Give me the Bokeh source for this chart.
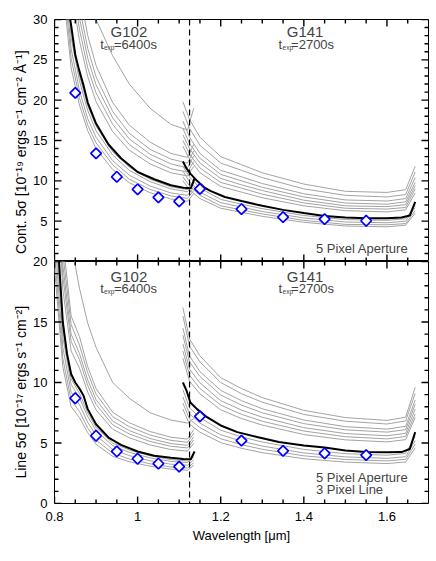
from math import pi
from bokeh.plotting import figure
from bokeh.models import Span, Label, FixedTicker, LinearAxis
from bokeh.layouts import column
from bokeh.embed import file_html
from bokeh.resources import INLINE

FONT = "Liberation Sans"
GRAY = "#a3a3a3"

# ---------------- data ----------------
# axis ticks
x_start, x_end = 0.8, 1.7
x_major = [0.8, 1.0, 1.2, 1.4, 1.6]
x_minor = [0.85, 0.9, 0.95, 1.05, 1.1, 1.15, 1.25, 1.3, 1.35, 1.45, 1.5, 1.55, 1.65]
cont_max = 30
cont_major = [0, 5, 10, 15, 20, 25, 30]
cont_minor = [v for v in range(31) if v % 5]
line_max = 20
line_major = [0, 5, 10, 15, 20]
line_minor = [v for v in range(21) if v % 5]
grism_split = 1.125

# thick black curves (median field)
wl_g102 = [0.80, 0.81, 0.82, 0.83, 0.84, 0.85, 0.86, 0.87, 0.88, 0.90, 0.93, 0.96, 1.00, 1.04, 1.08, 1.11, 1.128, 1.137]
cont_g102_median = [70, 52, 42, 32.5, 29.3, 25.6, 23.6, 21.8, 19.7, 17.1, 14.5, 12.8, 11.1, 10.2, 9.45, 9.15, 9.07, 10.3]
line_g102_median = [26, 20.5, 15.0, 12.4, 10.7, 10.0, 9.5, 8.9, 7.8, 6.55, 5.45, 4.85, 4.3, 3.95, 3.78, 3.68, 3.66, 4.3]

wl_g141_cont = [1.109, 1.118, 1.127, 1.143, 1.16, 1.175, 1.21, 1.25, 1.30, 1.35, 1.40, 1.45, 1.50, 1.55, 1.60, 1.635, 1.655, 1.668]
cont_g141_median = [12.4, 11.5, 10.9, 10.0, 9.2, 8.75, 8.0, 7.5, 6.9, 6.4, 6.0, 5.65, 5.45, 5.35, 5.35, 5.45, 5.7, 7.4]
wl_g141_line = [1.109, 1.118, 1.127, 1.143, 1.167, 1.20, 1.24, 1.29, 1.34, 1.40, 1.45, 1.50, 1.55, 1.60, 1.635, 1.655, 1.668]
line_g141_median = [10.0, 9.3, 8.35, 7.8, 7.13, 6.45, 5.9, 5.48, 5.08, 4.8, 4.62, 4.38, 4.25, 4.24, 4.25, 4.5, 5.9]

# thin gray curves (individual fields)
wl_g102_fields = [0.80, 0.82, 0.84, 0.86, 0.88, 0.90, 0.94, 0.98, 1.03, 1.08, 1.12, 1.135]
cont_g102_fields = [
    [120, 75, 52, 42, 35, 30, 25.5, 22.0, 19.0, 17.0, 16.3, 19.0],
    [99, 60, 41.6, 33.5, 28.0, 24.3, 19.7, 16.9, 14.8, 13.4, 12.9, 14.5],
    [94, 56, 39.3, 31.6, 26.4, 22.9, 18.6, 15.9, 13.9, 12.7, 12.2, 13.7],
    [90, 54, 37.5, 30.2, 25.2, 21.9, 17.8, 15.2, 13.3, 12.1, 11.6, 13.1],
    [85, 51, 35.7, 28.8, 24.0, 20.9, 17.0, 14.5, 12.7, 11.5, 11.1, 12.4],
    [81, 49, 34.0, 27.4, 22.9, 19.8, 16.1, 13.8, 12.1, 11.0, 10.6, 11.8],
    [69, 41, 28.7, 23.1, 19.3, 16.8, 13.6, 11.7, 10.2, 9.26, 8.92, 10.0],
    [66, 40, 27.8, 22.4, 18.7, 16.2, 13.2, 11.3, 9.9, 9.0, 8.65, 9.7],
    [63, 38, 26.4, 21.2, 17.7, 15.4, 12.5, 10.7, 9.36, 8.5, 8.2, 9.2],
    [60, 36, 25.2, 20.3, 16.9, 14.7, 12.0, 10.2, 8.94, 8.13, 7.83, 8.8],
    [57, 34, 24.0, 19.4, 16.2, 14.0, 11.4, 9.76, 8.53, 7.75, 7.46, 8.4],
]
line_g102_fields = [
    [45, 30, 21.5, 17.8, 14.9, 12.9, 10.0, 8.7, 7.5, 6.9, 6.65, 7.0],
    [37.7, 21.8, 15.5, 13.8, 11.3, 9.5, 7.54, 6.67, 5.95, 5.48, 5.32, 6.1],
    [35.9, 20.7, 14.8, 13.1, 10.8, 9.04, 7.18, 6.35, 5.66, 5.22, 5.06, 5.8],
    [34.1, 19.7, 14.0, 12.4, 10.2, 8.58, 6.81, 6.03, 5.37, 4.95, 4.81, 5.5],
    [32.5, 18.8, 13.4, 11.9, 9.75, 8.19, 6.5, 5.75, 5.13, 4.73, 4.59, 5.25],
    [30.7, 17.7, 12.6, 11.2, 9.2, 7.73, 6.14, 5.43, 4.84, 4.46, 4.33, 4.96],
    [25.0, 14.4, 10.3, 9.1, 7.5, 6.29, 4.99, 4.42, 3.94, 3.63, 3.52, 4.03],
    [23.9, 13.8, 9.84, 8.74, 7.18, 6.03, 4.78, 4.23, 3.77, 3.48, 3.38, 3.86],
    [22.4, 12.9, 9.2, 8.17, 6.71, 5.63, 4.47, 3.96, 3.53, 3.25, 3.16, 3.6],
    [20.8, 12.0, 8.56, 7.6, 6.24, 5.24, 4.16, 3.68, 3.28, 3.02, 2.94, 3.36],
    [19.5, 11.3, 8.0, 7.1, 5.85, 4.9, 3.9, 3.45, 3.08, 2.84, 2.75, 3.15],
]
wl_g141_fields = [1.109, 1.125, 1.15, 1.20, 1.25, 1.30, 1.40, 1.50, 1.60, 1.645, 1.668]
cont_g141_fields = [
    [19.8, 17.6, 15.4, 13.0, 12.0, 11.0, 9.6, 8.7, 8.56, 8.9, 11.8],
    [18.6, 16.5, 14.4, 12.2, 11.3, 10.4, 9.0, 8.2, 8.0, 8.3, 11.1],
    [17.4, 15.4, 13.4, 11.3, 10.5, 9.66, 8.4, 7.63, 7.5, 7.8, 10.4],
    [16.5, 14.6, 12.8, 10.8, 10.0, 9.2, 8.0, 7.25, 7.1, 7.4, 9.8],
    [15.7, 14.0, 12.2, 10.3, 9.5, 8.8, 7.6, 6.9, 6.8, 7.05, 9.4],
    [15.0, 13.3, 11.6, 9.8, 9.1, 8.35, 7.26, 6.6, 6.5, 6.7, 9.0],
    [14.3, 12.7, 11.0, 9.3, 8.6, 7.9, 6.9, 6.3, 6.15, 6.4, 8.5],
    [11.8, 10.5, 9.1, 7.7, 7.1, 6.55, 5.7, 5.2, 5.1, 5.3, 7.0],
    [11.2, 9.9, 8.6, 7.3, 6.75, 6.2, 5.4, 4.9, 4.8, 5.0, 6.7],
    [10.5, 9.35, 8.2, 6.9, 6.4, 5.9, 5.1, 4.6, 4.55, 4.7, 6.3],
    [10.0, 8.9, 7.8, 6.6, 6.1, 5.6, 4.86, 4.4, 4.3, 4.5, 6.0],
]
line_g141_fields = [
    [16.2, 13.6, 12.2, 10.4, 9.5, 8.75, 7.7, 7.1, 6.87, 7.13, 9.6],
    [15.5, 13.0, 11.7, 10.0, 9.07, 8.37, 7.36, 6.8, 6.57, 6.82, 9.1],
    [14.5, 12.2, 10.9, 9.35, 8.5, 7.83, 6.9, 6.35, 6.15, 6.38, 8.55],
    [13.9, 11.7, 10.5, 8.97, 8.13, 7.5, 6.6, 6.09, 5.9, 6.1, 8.2],
    [13.2, 11.1, 9.97, 8.5, 7.72, 7.13, 6.27, 5.78, 5.6, 5.8, 7.8],
    [12.6, 10.6, 9.5, 8.13, 7.37, 6.8, 5.99, 5.52, 5.34, 5.54, 7.4],
    [12.0, 10.1, 9.06, 7.74, 7.02, 6.48, 5.7, 5.26, 5.09, 5.28, 7.1],
    [9.4, 7.9, 7.1, 6.06, 5.5, 5.08, 4.47, 4.12, 3.99, 4.14, 5.55],
    [8.8, 7.4, 6.64, 5.68, 5.15, 4.75, 4.18, 3.85, 3.73, 3.87, 5.2],
    [8.3, 6.97, 6.27, 5.35, 4.86, 4.48, 3.94, 3.64, 3.52, 3.65, 4.9],
    [7.8, 6.55, 5.9, 5.03, 4.56, 4.2, 3.7, 3.42, 3.3, 3.43, 4.6],
]

# blue diamonds (reference values)
wl_points = [0.85, 0.90, 0.95, 1.00, 1.05, 1.10, 1.15, 1.25, 1.35, 1.45, 1.55]
cont_points = [20.9, 13.4, 10.5, 8.95, 7.95, 7.45, 9.0, 6.5, 5.5, 5.25, 5.05]
line_points = [8.7, 5.6, 4.3, 3.7, 3.3, 3.05, 7.2, 5.2, 4.35, 4.15, 4.0]

cont_title = "Cont.  5σ  [10⁻¹⁹  ergs  s⁻¹  cm⁻²  Å⁻¹]"
line_title = "Line  5σ  [10⁻¹⁷  ergs  s⁻¹  cm⁻²]"
x_title = "Wavelength [μm]"

FRAME_W = 374   # frame size in px, used only to size the tick marks
FRAME_H = 242


def style_axis(ax, label):
    ax.axis_line_color = None
    ax.major_tick_in = 0
    ax.major_tick_out = 0
    ax.minor_tick_in = 0
    ax.minor_tick_out = 0
    ax.major_label_text_font = FONT
    ax.major_label_text_font_size = "13px"
    ax.major_label_text_color = "black"
    ax.axis_label = label
    ax.axis_label_text_font = FONT
    ax.axis_label_text_font_style = "normal"
    ax.axis_label_text_color = "black"


def add_ticks(p, ymax, y_major, y_minor):
    # inward tick marks on all four frame edges (7 px major, 4 px minor)
    dx = (x_end - x_start) / FRAME_W
    dy = ymax / FRAME_H
    xs, ys = [], []
    for vals, n in [(y_major, 7), (y_minor, 4)]:
        for v in vals:
            xs += [[x_start, x_start + n * dx], [x_end, x_end - n * dx]]
            ys += [[v, v], [v, v]]
    for vals, n in [(x_major, 7), (x_minor, 4)]:
        for v in vals:
            xs += [[v, v], [v, v]]
            ys += [[0, n * dy], [ymax, ymax - n * dy]]
    p.multi_line(xs=xs, ys=ys, line_color="black", line_width=1.4)


def draw_panel(p, g102_fields, g141_fields, g102_med, g141_wl, g141_med, pts):
    p.multi_line(xs=[wl_g102_fields] * len(g102_fields), ys=g102_fields,
                 line_color=GRAY, line_width=1)
    p.multi_line(xs=[wl_g141_fields] * len(g141_fields), ys=g141_fields,
                 line_color=GRAY, line_width=1)
    p.line(wl_g102, g102_med, line_color="black", line_width=2)
    p.line(g141_wl, g141_med, line_color="black", line_width=2)
    p.add_layout(Span(location=grism_split, dimension="height", line_color="black",
                      line_width=1.2, line_dash="6 4"))
    p.scatter(wl_points, pts, marker="square", angle=pi / 4, size=7.5,
              line_color="#0000ff", fill_color="white", line_width=1.7)


def add_texts(p, y_name, y_texp):
    for xc, grism, tval, (ot, oe, oq) in [(0.979, "G102", "=6400s", (-25, -25, -15)),
                                          (1.403, "G141", "=2700s", (-23, -22.5, -14))]:
        p.add_layout(Label(x=xc, y=y_name, text=grism, text_font=FONT, text_font_size="15px",
                           text_align="center", text_baseline="middle"))
        p.add_layout(Label(x=xc, y=y_texp, x_offset=ot, text="t", text_font=FONT,
                           text_font_size="13px", text_align="right", text_baseline="middle"))
        p.add_layout(Label(x=xc, y=y_texp, x_offset=oe, y_offset=-3, text="exp", text_font=FONT,
                           text_font_size="6.5px", text_align="left", text_baseline="middle"))
        p.add_layout(Label(x=xc, y=y_texp, x_offset=oq, text=tval, text_font=FONT,
                           text_font_size="13px", text_align="left", text_baseline="middle"))


common = dict(width=432, x_range=(x_start, x_end), output_backend="svg", toolbar_location=None,
              x_axis_type=None, y_axis_type=None, min_border_left=54, min_border_right=4)

p1 = figure(height=261, y_range=(0, cont_max), min_border_top=19, min_border_bottom=0, **common)
p2 = figure(height=295, y_range=(0, line_max), min_border_top=8, min_border_bottom=45, **common)
p2.margin = (-8, 0, 0, 0)
p2.border_fill_alpha = 0

for p in (p1, p2):
    p.outline_line_color = "black"
    p.outline_line_width = 1
    p.outline_line_alpha = 1

ay1 = LinearAxis(ticker=FixedTicker(ticks=cont_major, minor_ticks=cont_minor))
style_axis(ay1, cont_title)
ay1.major_label_standoff = 7
ay1.axis_label_standoff = 1
ay1.axis_label_text_font_size = "14px"
ay1.major_label_overrides = {0: ""}
p1.add_layout(ay1, "left")

ay2 = LinearAxis(ticker=FixedTicker(ticks=line_major, minor_ticks=line_minor))
style_axis(ay2, line_title)
ay2.major_label_standoff = 7
ay2.axis_label_standoff = 1
ay2.axis_label_text_font_size = "14px"
p2.add_layout(ay2, "left")

ax2 = LinearAxis(ticker=FixedTicker(ticks=x_major, minor_ticks=x_minor))
style_axis(ax2, x_title)
ax2.major_label_standoff = 8
ax2.axis_label_standoff = 4
ax2.axis_label_text_font_size = "13px"
p2.add_layout(ax2, "below")

draw_panel(p1, cont_g102_fields, cont_g141_fields, cont_g102_median,
           wl_g141_cont, cont_g141_median, cont_points)
draw_panel(p2, line_g102_fields, line_g141_fields, line_g102_median,
           wl_g141_line, line_g141_median, line_points)

add_ticks(p1, cont_max, cont_major, cont_minor)
add_ticks(p2, line_max, line_major, line_minor)

add_texts(p1, 28.5, 26.9)
add_texts(p2, 18.8, 17.75)

p1.add_layout(Label(x=1.429, y=1.55, text="5 Pixel Aperture", text_font=FONT,
                    text_font_size="13px", text_align="left", text_baseline="middle"))
p2.add_layout(Label(x=1.429, y=2.15, text="5 Pixel Aperture", text_font=FONT,
                    text_font_size="13px", text_align="left", text_baseline="middle"))
p2.add_layout(Label(x=1.429, y=1.15, text="3 Pixel Line", text_font=FONT,
                    text_font_size="13px", text_align="left", text_baseline="middle"))

layout = column(p1, p2)
open("out.html", "w").write(file_html(layout, INLINE))
